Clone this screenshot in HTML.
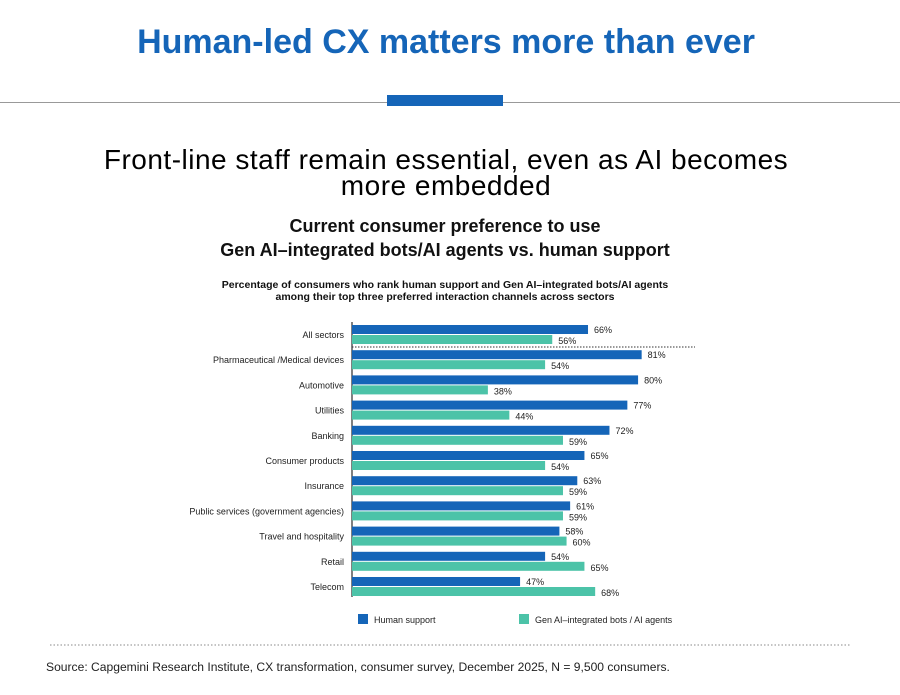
<!DOCTYPE html>
<html><head><style>
body{margin:0;width:900px;height:695px;background:#fff;font-family:"Liberation Sans",sans-serif;position:relative;overflow:hidden}
.t{position:absolute;white-space:nowrap}
</style></head><body>
<div class="t" style="left:0;width:892px;text-align:center;top:23px;font-size:34px;color:#1565b8;font-weight:bold;letter-spacing:0px">Human-led CX matters more than ever</div>
<div style="position:absolute;left:0;top:102px;width:900px;height:1px;background:#999"></div>
<div style="position:absolute;left:387px;top:95px;width:116px;height:11px;background:#1565b8"></div>
<div class="t" style="left:0;width:892px;text-align:center;top:147px;font-size:28px;line-height:26px;color:#000;letter-spacing:0.5px">Front-line staff remain essential, even as AI becomes<br>more embedded</div>
<div class="t" style="left:0;width:890px;text-align:center;top:214px;font-size:18px;line-height:24px;color:#111;font-weight:bold">Current consumer preference to use<br>Gen AI–integrated bots/AI agents vs. human support</div>
<div class="t" style="left:0;width:890px;text-align:center;top:279px;font-size:10.5px;line-height:12px;color:#111;font-weight:bold">Percentage of consumers who rank human support and Gen AI–integrated bots/AI agents<br>among their top three preferred interaction channels across sectors</div>
<svg style="position:absolute;left:0;top:0" width="900" height="695" font-family="Liberation Sans, sans-serif" font-size="9">
<line x1="352" y1="322" x2="352" y2="597" stroke="#000" stroke-width="1"/>
<line x1="352" y1="347" x2="695" y2="347" stroke="#333" stroke-dasharray="1.5,1.5"/>
<g id="bars"></g>
<rect x="358" y="614" width="10" height="10" fill="#1565b8"/>
<text x="374" y="623" fill="#222">Human support</text>
<rect x="519" y="614" width="10" height="10" fill="#4cc3a8"/>
<text x="535" y="623" fill="#222">Gen AI–integrated bots / AI agents</text>
<line x1="50" y1="645" x2="850" y2="645" stroke="#888" stroke-dasharray="1.5,2"/>
<text x="46" y="671" font-size="12.1" fill="#222">Source: Capgemini Research Institute, CX transformation, consumer survey, December 2025, N = 9,500 consumers.</text>
</svg>
<script>
var d=[["All sectors",66,56],["Pharmaceutical /Medical devices",81,54],["Automotive",80,38],["Utilities",77,44],["Banking",72,59],["Consumer products",65,54],["Insurance",63,59],["Public services (government agencies)",61,59],["Travel and hospitality",58,60],["Retail",54,65],["Telecom",47,68]];
var s="",k=3.576;
d.forEach(function(r,i){var y=325+i*25.2;
s+='<text x="344" y="'+(y+13)+'" text-anchor="end" fill="#222">'+r[0]+'</text>';
s+='<rect x="352" y="'+y+'" width="'+r[1]*k+'" height="9" fill="#1565b8"/>';
s+='<rect x="352" y="'+(y+10)+'" width="'+r[2]*k+'" height="9" fill="#4cc3a8"/>';
s+='<text x="'+(352+r[1]*k+6)+'" y="'+(y+8)+'" fill="#222">'+r[1]+'%</text>';
s+='<text x="'+(352+r[2]*k+6)+'" y="'+(y+19)+'" fill="#222">'+r[2]+'%</text>';});
document.getElementById("bars").innerHTML=s;
</script>
</body></html>
